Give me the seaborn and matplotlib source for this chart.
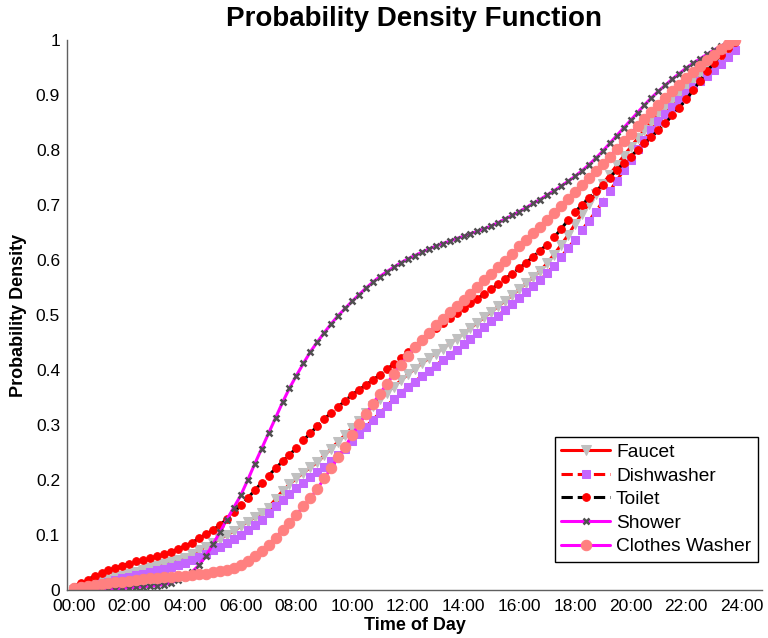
import numpy as np
import pandas as pd
import matplotlib
matplotlib.use("Agg")
import matplotlib.pyplot as plt
import seaborn as sns

# 15-minute samples over the day (hours)
hours = np.arange(0, 24, 0.25)
tick_hours = list(range(0, 25, 2))
tick_labels = ["%02d:00" % h for h in tick_hours]

faucet = [
    0.000, 0.004, 0.008, 0.012, 0.016, 0.019, 0.023, 0.026,
    0.030, 0.033, 0.037, 0.040, 0.044, 0.047, 0.051, 0.054,
    0.058, 0.066, 0.072, 0.079, 0.086, 0.093, 0.100, 0.107,
    0.116, 0.124, 0.132, 0.140, 0.150, 0.165, 0.180, 0.192,
    0.203, 0.213, 0.223, 0.232, 0.245, 0.257, 0.270, 0.282,
    0.295, 0.308, 0.321, 0.334, 0.347, 0.359, 0.370, 0.381,
    0.392, 0.402, 0.412, 0.421, 0.430, 0.439, 0.448, 0.457,
    0.466, 0.476, 0.486, 0.496, 0.506, 0.516, 0.526, 0.536,
    0.547, 0.558, 0.569, 0.580, 0.594, 0.610, 0.627, 0.645,
    0.665, 0.684, 0.702, 0.720, 0.738, 0.755, 0.772, 0.789,
    0.805, 0.821, 0.836, 0.851, 0.865, 0.878, 0.891, 0.903,
    0.915, 0.927, 0.938, 0.949, 0.960, 0.972, 0.985, 1.000,
]

dishwasher = [
    0.000, 0.003, 0.006, 0.009, 0.012, 0.015, 0.018, 0.021,
    0.024, 0.027, 0.030, 0.033, 0.036, 0.039, 0.042, 0.046,
    0.050, 0.055, 0.060, 0.066, 0.072, 0.079, 0.086, 0.093,
    0.100, 0.109, 0.118, 0.128, 0.140, 0.152, 0.164, 0.175,
    0.185, 0.195, 0.205, 0.214, 0.224, 0.234, 0.245, 0.256,
    0.271, 0.284, 0.297, 0.310, 0.322, 0.335, 0.347, 0.358,
    0.369, 0.379, 0.389, 0.398, 0.408, 0.418, 0.427, 0.437,
    0.447, 0.457, 0.468, 0.478, 0.489, 0.499, 0.510, 0.520,
    0.531, 0.541, 0.552, 0.563, 0.576, 0.590, 0.605, 0.621,
    0.637, 0.654, 0.671, 0.688, 0.706, 0.725, 0.744, 0.763,
    0.782, 0.801, 0.819, 0.836, 0.852, 0.866, 0.879, 0.891,
    0.903, 0.914, 0.925, 0.935, 0.945, 0.957, 0.969, 0.982,
]

toilet = [
    0.006, 0.013, 0.019, 0.025, 0.031, 0.036, 0.040, 0.044,
    0.048, 0.052, 0.055, 0.058, 0.061, 0.065, 0.069, 0.074,
    0.080, 0.086, 0.094, 0.101, 0.109, 0.118, 0.129, 0.141,
    0.154, 0.167, 0.181, 0.195, 0.208, 0.221, 0.234, 0.246,
    0.258, 0.272, 0.285, 0.298, 0.311, 0.322, 0.333, 0.344,
    0.355, 0.364, 0.373, 0.382, 0.391, 0.401, 0.411, 0.421,
    0.432, 0.443, 0.454, 0.465, 0.476, 0.485, 0.494, 0.503,
    0.512, 0.521, 0.530, 0.538, 0.547, 0.556, 0.566, 0.575,
    0.585, 0.595, 0.606, 0.617, 0.628, 0.641, 0.656, 0.672,
    0.687, 0.700, 0.712, 0.725, 0.737, 0.750, 0.763, 0.776,
    0.788, 0.800, 0.812, 0.824, 0.836, 0.849, 0.863, 0.877,
    0.892, 0.909, 0.926, 0.943, 0.959, 0.973, 0.985, 0.997,
]

shower = [
    0.000, 0.000, 0.000, 0.001, 0.001, 0.002, 0.002, 0.003,
    0.004, 0.005, 0.006, 0.007, 0.008, 0.010, 0.013, 0.018,
    0.024, 0.033, 0.045, 0.062, 0.083, 0.105, 0.128, 0.150,
    0.172, 0.200, 0.229, 0.257, 0.285, 0.313, 0.341, 0.367,
    0.390, 0.412, 0.433, 0.451, 0.468, 0.484, 0.499, 0.512,
    0.525, 0.537, 0.549, 0.560, 0.570, 0.579, 0.587, 0.595,
    0.602, 0.608, 0.614, 0.620, 0.625, 0.630, 0.634, 0.639,
    0.643, 0.648, 0.652, 0.657, 0.662, 0.668, 0.675, 0.681,
    0.688, 0.695, 0.703, 0.710, 0.718, 0.726, 0.734, 0.743,
    0.752, 0.762, 0.773, 0.785, 0.798, 0.812, 0.826, 0.840,
    0.854, 0.868, 0.882, 0.895, 0.907, 0.918, 0.929, 0.939,
    0.949, 0.958, 0.966, 0.974, 0.982, 0.989, 0.995, 1.000,
]

clothes_washer = [
    0.003, 0.005, 0.007, 0.009, 0.011, 0.012, 0.014, 0.015,
    0.017, 0.018, 0.020, 0.021, 0.022, 0.023, 0.024, 0.025,
    0.026, 0.027, 0.029, 0.030, 0.032, 0.034, 0.037, 0.040,
    0.046, 0.053, 0.061, 0.071, 0.082, 0.095, 0.109, 0.122,
    0.137, 0.152, 0.167, 0.184, 0.203, 0.222, 0.241, 0.260,
    0.282, 0.301, 0.320, 0.339, 0.357, 0.375, 0.393, 0.410,
    0.426, 0.441, 0.455, 0.468, 0.481, 0.493, 0.505, 0.516,
    0.527, 0.539, 0.551, 0.563, 0.575, 0.587, 0.599, 0.611,
    0.625, 0.637, 0.649, 0.660, 0.672, 0.685, 0.698, 0.711,
    0.724, 0.737, 0.749, 0.761, 0.774, 0.788, 0.802, 0.816,
    0.830, 0.843, 0.856, 0.869, 0.882, 0.895, 0.907, 0.919,
    0.931, 0.942, 0.953, 0.963, 0.973, 0.983, 0.992, 1.000,
]

series_names = ["Faucet", "Dishwasher", "Toilet", "Shower", "Clothes Washer"]
series_values = [faucet, dishwasher, toilet, shower, clothes_washer]

# estilo de cada serie (linea, marcador)
styles = {
    "Faucet": dict(color="#FF0000", linestyle="-", linewidth=2.2, marker="v",
                   markersize=7, markerfacecolor="#C0C0C0", markeredgecolor="#C0C0C0"),
    "Dishwasher": dict(color="#FF0000", linestyle="--", linewidth=2.2, marker="s",
                       markersize=6, markerfacecolor="#C466FF", markeredgecolor="#C466FF"),
    "Toilet": dict(color="#000000", linestyle="--", linewidth=2.2, marker="o",
                   markersize=5.5, markerfacecolor="#FF0000", markeredgecolor="#FF0000"),
    "Shower": dict(color="#FF00FF", linestyle="-", linewidth=2.2, marker="x",
                   markersize=4.5, markeredgewidth=1.8, markeredgecolor="#505050"),
    "Clothes Washer": dict(color="#FF00FF", linestyle="-", linewidth=2.2, marker="o",
                           markersize=7.5, markerfacecolor="#FF8080", markeredgecolor="#FF8080"),
}

df = pd.concat(
    [pd.DataFrame({"hour": hours, "cdf": vals, "fixture": name})
     for name, vals in zip(series_names, series_values)],
    ignore_index=True,
)

sns.set_theme(style="white")
plt.rcParams["font.family"] = ["Liberation Sans", "DejaVu Sans"]
plt.rcParams["text.color"] = "black"
plt.rcParams["axes.labelcolor"] = "black"

fig = plt.figure(figsize=(7.68, 6.38), dpi=100)
ax = fig.add_axes([67 / 768, 48 / 638, 695 / 768, 550 / 638])

for name in series_names:
    sns.lineplot(data=df[df["fixture"] == name], x="hour", y="cdf",
                 label=name, ax=ax, **styles[name])

ax.set_xlim(-0.24, 24.72)
ax.set_ylim(0, 1)
ax.set_xticks(tick_hours)
ax.set_xticklabels(tick_labels)
ax.set_yticks(np.arange(0, 1.01, 0.1))
ax.set_yticklabels(["0"] + ["%.1f" % v for v in np.arange(0.1, 0.95, 0.1)] + ["1"])
ax.tick_params(direction="in", length=5, width=1, colors="#000000", labelsize=12.5)
ax.tick_params(axis="x", pad=6.5)
ax.tick_params(axis="y", pad=5)

for side in ["top", "right"]:
    ax.spines[side].set_visible(False)
for side in ["left", "bottom"]:
    ax.spines[side].set_color("#606060")
    ax.spines[side].set_linewidth(1)

ax.set_title("Probability Density Function", fontsize=20, fontweight="bold",
             pad=10, color="black")
ax.set_xlabel("Time of Day", fontsize=13, fontweight="bold", labelpad=2)
ax.set_ylabel("Probability Density", fontsize=13, fontweight="bold", labelpad=6)

leg = ax.legend(loc="lower right", bbox_to_anchor=(0.994, 0.051), borderaxespad=0,
                fontsize=13.8, frameon=True, fancybox=False, framealpha=1,
                handlelength=2.55, handletextpad=0.3, labelspacing=0.32,
                borderpad=0.35)
leg.get_frame().set_edgecolor("#000000")
leg.get_frame().set_linewidth(1)

fig.savefig("out.png", dpi=100)
plt.close(fig)
